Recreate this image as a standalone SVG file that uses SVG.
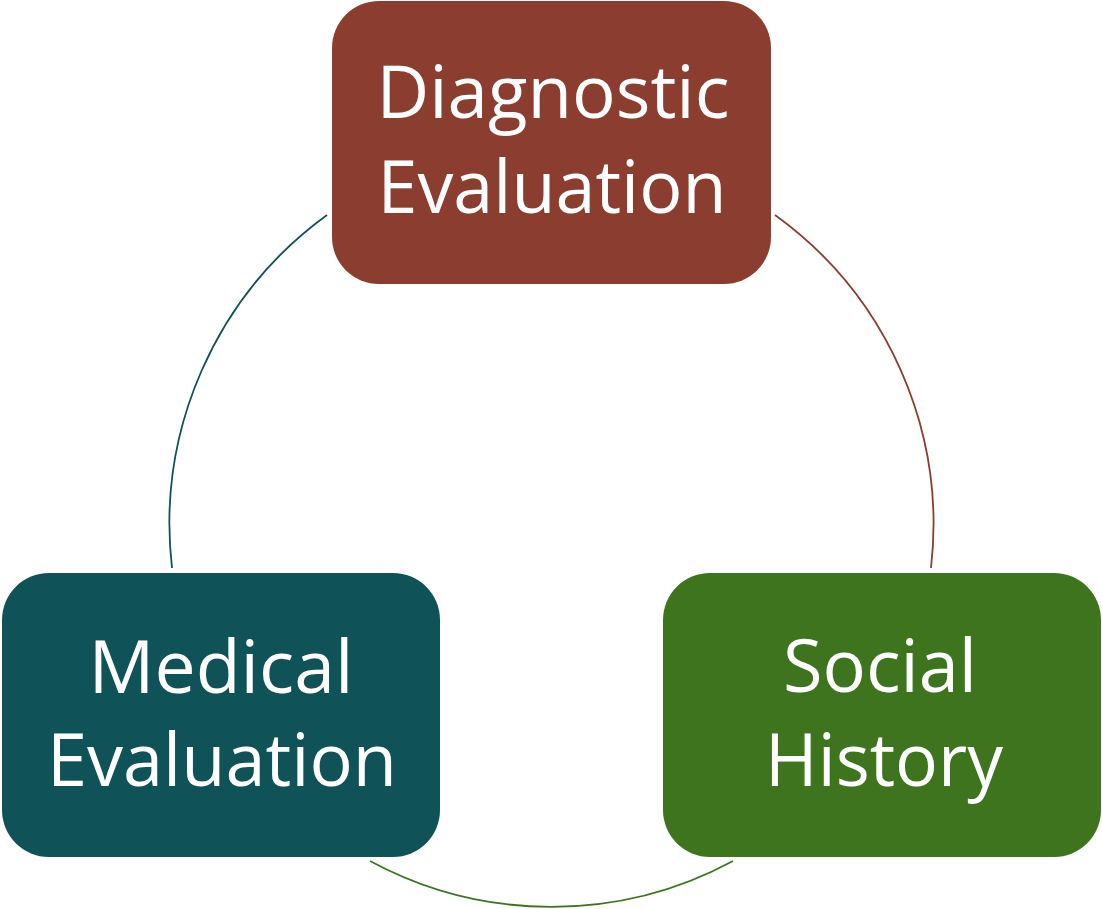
<svg xmlns="http://www.w3.org/2000/svg" width="1102" height="909" viewBox="0 0 1102 909">
<style>
.lbl{font-family:"Open Sans","Noto Sans","Liberation Sans",sans-serif;font-size:73px;fill:#ffffff;text-anchor:middle}
.arc{fill:none;stroke-width:1.8}
</style>
<rect width="1102" height="909" fill="#ffffff"/>
<g id="connectors">
<path class="arc" stroke="#8B3E2F" d="M 775 215 A 382 382 0 0 1 931 568"/>
<path class="arc" stroke="#3E741E" d="M 733 861 A 382 382 0 0 1 370 861"/>
<path class="arc" stroke="#0F5257" d="M 172 568 A 382 382 0 0 1 327 215"/>
</g>
<g id="node-diagnostic">
<rect x="332" y="1" width="439" height="283" rx="47" fill="#8B3E2F"/>
<text class="lbl" x="553" y="118" textLength="353" lengthAdjust="spacingAndGlyphs">Diagnostic</text>
<text class="lbl" x="552" y="213" textLength="349" lengthAdjust="spacingAndGlyphs">Evaluation</text>
</g>
<g id="node-medical">
<rect x="2" y="573" width="438" height="284" rx="47" fill="#0F5257"/>
<text class="lbl" x="221" y="693" textLength="265" lengthAdjust="spacingAndGlyphs">Medical</text>
<text class="lbl" x="222" y="786" textLength="350" lengthAdjust="spacingAndGlyphs">Evaluation</text>
</g>
<g id="node-social">
<rect x="663" y="573" width="438" height="284" rx="47" fill="#3E741E"/>
<text class="lbl" x="880" y="692" textLength="194" lengthAdjust="spacingAndGlyphs">Social</text>
<text class="lbl" x="884" y="786" textLength="238" lengthAdjust="spacingAndGlyphs">History</text>
</g>
</svg>
